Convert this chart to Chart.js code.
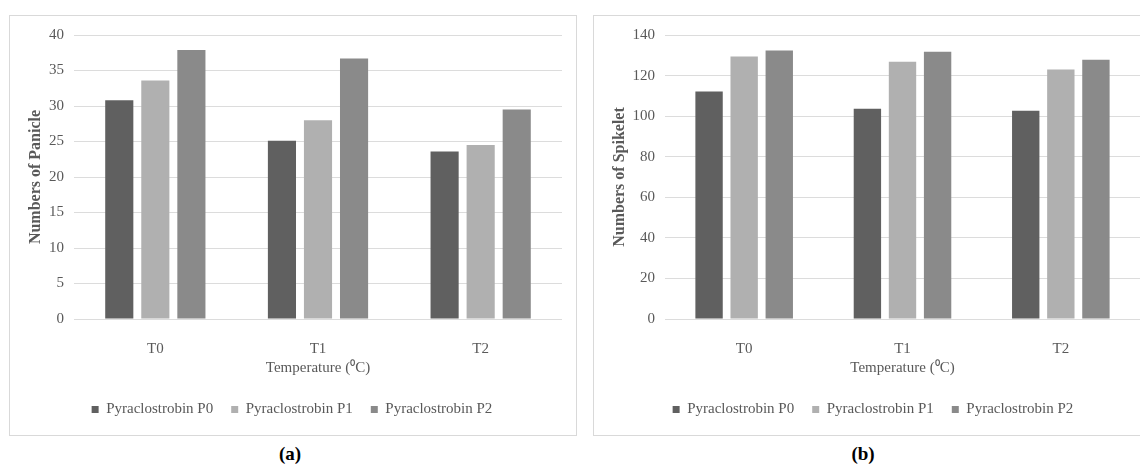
<!DOCTYPE html>
<html>
<head>
<meta charset="utf-8">
<script src="https://cdn.jsdelivr.net/npm/chart.js@4.4.1/dist/chart.umd.min.js"></script>
<style>
body { margin: 0; width: 1140px; height: 464px; overflow: hidden; background: #fff; position: relative; font-family: 'Liberation Serif', serif; }
.caja { position: absolute; top: 15px; width: 566px; height: 419px; border: 1px solid #d9d9d9; }
.caja div { position: relative; width: 566px; height: 419px; }
.letra { position: absolute; top: 443px; width: 60px; text-align: center; font-weight: bold; font-size: 19px; color: #000; }
</style>
</head>
<body>
<div class="caja" style="left:9px"><div><canvas id="panicula"></canvas></div></div>
<div class="caja" style="left:593px"><div><canvas id="espiguilla"></canvas></div></div>
<div class="letra" style="left:260px">(a)</div>
<div class="letra" style="left:833px">(b)</div>
<script>
// Datos
const categorias = ["T0", "T1", "T2"];
const series = ["Pyraclostrobin P0", "Pyraclostrobin P1", "Pyraclostrobin P2"];
const colores = ["#606060", "#b0b0b0", "#8a8a8a"];

// (a) Numbers of Panicle
const paniculaP0 = [30.8, 25.1, 23.6];
const paniculaP1 = [33.6, 28.0, 24.5];
const paniculaP2 = [37.9, 36.7, 29.5];

// (b) Numbers of Spikelet
const espiguillaP0 = [112.2, 103.6, 102.6];
const espiguillaP1 = [129.4, 126.8, 123.0];
const espiguillaP2 = [132.3, 131.8, 127.8];

const fuente = "'Liberation Serif', 'Times New Roman', serif";
const gris = "#595959";

function crearGrafico(id, valores, maximo, paso, tituloY, anchoY, derecha) {
  const ctx = document.getElementById(id).getContext("2d");
  return new Chart(ctx, {
    type: "bar",
    data: {
      labels: categorias,
      datasets: valores.map((v, i) => ({
        label: series[i],
        data: v,
        backgroundColor: colores[i],
        categoryPercentage: 0.665,
        barPercentage: 0.78
      }))
    },
    options: {
      responsive: true,
      maintainAspectRatio: false,
      animation: false,
      layout: { padding: { left: 12, right: derecha, top: 18, bottom: 8 } },
      plugins: {
        tooltip: { enabled: false },
        legend: {
          position: "bottom",
          labels: {
            boxWidth: 7,
            boxHeight: 7,
            padding: 18,
            color: gris,
            font: { family: fuente, size: 15 }
          }
        }
      },
      scales: {
        x: {
          grid: { display: false },
          border: { display: false },
          ticks: { color: gris, padding: 13, font: { family: fuente, size: 15 } },
          title: {
            display: true,
            text: "Temperature (\u2070C)",
            color: gris,
            padding: { top: 0, bottom: 7 },
            font: { family: fuente, size: 15 }
          },
          afterFit: function(escala) { escala.height = 65; }
        },
        y: {
          min: 0,
          max: maximo,
          border: { display: false },
          grid: { color: "#dcdcdc", drawTicks: false },
          ticks: { stepSize: paso, color: gris, padding: 10, font: { family: fuente, size: 15 } },
          title: {
            display: true,
            text: tituloY,
            color: gris,
            padding: { top: 4, bottom: 0 },
            font: { family: fuente, size: 16, weight: "bold" }
          },
          afterFit: function(escala) { escala.width = anchoY; }
        }
      }
    }
  });
}

crearGrafico("panicula", [paniculaP0, paniculaP1, paniculaP2], 40, 5, "Numbers of Panicle", 52, 14);
crearGrafico("espiguilla", [espiguillaP0, espiguillaP1, espiguillaP2], 140, 20, "Numbers of Spikelet", 59, 20);
</script>
</body>
</html>
